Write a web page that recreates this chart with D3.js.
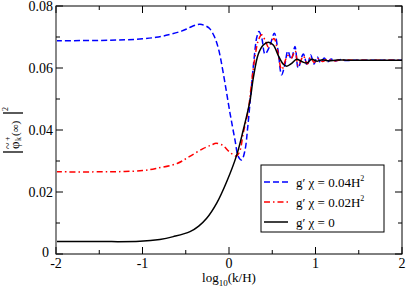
<!DOCTYPE html>
<html>
<head>
<meta charset="utf-8">
<script src="https://cdn.jsdelivr.net/npm/d3@7"></script>
<style>
  body { margin: 0; background: #fff; }
  svg text { font-family: "Liberation Serif", "Times New Roman", "DejaVu Serif", serif; }
</style>
</head>
<body>
<div id="chart"></div>
<script>
// log10(k/H) and |phi|^2 values
const blueX = [-2, -1.5, -1.2, -1.0, -0.844, -0.7, -0.55, -0.459, -0.38, -0.335, -0.28, -0.227, -0.17, -0.12, -0.066, 0.012, 0.069, 0.108, 0.146, 0.185, 0.215, 0.25, 0.29, 0.322, 0.347, 0.38, 0.416, 0.47, 0.524, 0.565, 0.608, 0.645, 0.68, 0.72, 0.763, 0.80, 0.859, 0.905, 0.944, 0.983, 1.02, 1.06, 1.10, 1.14, 1.18, 1.23, 1.28, 1.35, 1.45, 1.6, 2.0];
const blueY = [0.0688, 0.0689, 0.0691, 0.0694, 0.0699, 0.0707, 0.0719, 0.0730, 0.0739, 0.0741, 0.0737, 0.0728, 0.0702, 0.0660, 0.0583, 0.0454, 0.0368, 0.0314, 0.0303, 0.0335, 0.0405, 0.0510, 0.0630, 0.0700, 0.0718, 0.0695, 0.0645, 0.0670, 0.0712, 0.0660, 0.0578, 0.0610, 0.0655, 0.0628, 0.0669, 0.0600, 0.0645, 0.0608, 0.0642, 0.0613, 0.0636, 0.0617, 0.0632, 0.0620, 0.0629, 0.0622, 0.0627, 0.0624, 0.0625, 0.0625, 0.0625];

const redX = [-2, -1.5, -1.23, -1.0, -0.844, -0.6, -0.459, -0.3, -0.2, -0.15, -0.07, 0.003, 0.08, 0.12, 0.165, 0.223, 0.26, 0.30, 0.34, 0.378, 0.42, 0.455, 0.52, 0.565, 0.61, 0.68, 0.72, 0.765, 0.80, 0.86, 0.905, 0.944, 0.983, 1.03, 1.08, 1.14, 1.2, 1.3, 1.45, 2.0];
const redY = [0.0265, 0.0265, 0.0266, 0.0269, 0.0276, 0.0292, 0.0314, 0.0340, 0.0352, 0.0357, 0.0350, 0.0330, 0.0316, 0.0328, 0.0390, 0.0465, 0.0550, 0.0635, 0.0690, 0.0707, 0.0688, 0.0668, 0.0695, 0.0650, 0.0595, 0.0640, 0.0632, 0.0655, 0.0607, 0.0638, 0.0613, 0.0635, 0.0618, 0.0630, 0.0621, 0.0628, 0.0623, 0.0626, 0.0625, 0.0625];

const blackX = [-2, -1.5, -1.03, -0.8, -0.644, -0.451, -0.35, -0.258, -0.142, -0.027, 0.089, 0.165, 0.243, 0.281, 0.339, 0.397, 0.455, 0.512, 0.570, 0.628, 0.667, 0.725, 0.782, 0.84, 0.898, 0.956, 1.02, 1.08, 1.15, 1.25, 1.4, 2.0];
const blackY = [0.0040, 0.0040, 0.0041, 0.0047, 0.0056, 0.0072, 0.0090, 0.0115, 0.0164, 0.0233, 0.0319, 0.0400, 0.0495, 0.0568, 0.0645, 0.0674, 0.0683, 0.0674, 0.0640, 0.0612, 0.0606, 0.0615, 0.0628, 0.0621, 0.0616, 0.0628, 0.0622, 0.0627, 0.0623, 0.0626, 0.0625, 0.0625];

const xTicks = [-2, -1, 0, 1, 2];
const xMinor = [-1.5, -0.5, 0.5, 1.5];
const yTicks = [0, 0.02, 0.04, 0.06, 0.08];
const yTickLabels = ["0", "0.02", "0.04", "0.06", "0.08"];
const yMinor = [0.01, 0.03, 0.05, 0.07];
const legendLabels = ["0.04H", "0.02H", "0"];

const W = 407, H = 289;
const x0 = 56, x1 = 402, y0 = 254, y1 = 6;
const serif = "'Liberation Serif', 'Times New Roman', 'DejaVu Serif', serif";

const svg = d3.select("#chart").append("svg")
    .attr("width", W)
    .attr("height", H)
    .attr("font-family", serif);

const x = d3.scaleLinear().domain([-2, 2]).range([x0, x1]);
const y = d3.scaleLinear().domain([0, 0.08]).range([y0, y1]);

// curves
const line = d3.line()
    .x(d => x(d[0]))
    .y(d => y(d[1]))
    .curve(d3.curveCatmullRom.alpha(0.5));

const series = [
    { xs: blueX, ys: blueY, color: "#0000ff", dash: "6,3" },
    { xs: redX, ys: redY, color: "#ff0000", dash: "6,3,1.5,3" },
    { xs: blackX, ys: blackY, color: "#000", dash: null }
];

svg.append("clipPath").attr("id", "clip")
    .append("rect").attr("x", x0).attr("y", y1).attr("width", x1 - x0).attr("height", y0 - y1);

series.forEach(s => {
    svg.append("path")
        .datum(s.xs.map((v, i) => [v, s.ys[i]]))
        .attr("clip-path", "url(#clip)")
        .attr("fill", "none")
        .attr("stroke", s.color)
        .attr("stroke-width", 1.5)
        .attr("stroke-dasharray", s.dash)
        .attr("d", line);
});

// frame + inward ticks
const frame = svg.append("g");
frame.append("rect")
    .attr("x", x0).attr("y", y1)
    .attr("width", x1 - x0).attr("height", y0 - y1)
    .attr("fill", "none").attr("stroke", "#000").attr("stroke-width", 1);
frame.append("line")
    .attr("x1", x0).attr("x2", x0).attr("y1", y1).attr("y2", y0)
    .attr("stroke", "#888").attr("stroke-width", 2);

function tick(g, v, len, axis) {
    if (axis === "x") {
        g.append("line").attr("x1", x(v)).attr("x2", x(v)).attr("y1", y0).attr("y2", y0 - len).attr("stroke", "#000");
        g.append("line").attr("x1", x(v)).attr("x2", x(v)).attr("y1", y1).attr("y2", y1 + len).attr("stroke", "#000");
    } else {
        g.append("line").attr("y1", y(v)).attr("y2", y(v)).attr("x1", x0).attr("x2", x0 + len).attr("stroke", "#000");
        g.append("line").attr("y1", y(v)).attr("y2", y(v)).attr("x1", x1).attr("x2", x1 - len).attr("stroke", "#000");
    }
}
xTicks.forEach(v => tick(frame, v, 7, "x"));
xMinor.forEach(v => tick(frame, v, 4, "x"));
yTicks.forEach(v => tick(frame, v, 7, "y"));
yMinor.forEach(v => tick(frame, v, 4, "y"));

// tick labels
svg.selectAll(".xl").data(xTicks).enter().append("text")
    .attr("x", d => x(d)).attr("y", 268)
    .attr("text-anchor", "middle").attr("font-size", 14)
    .text(d => d);
svg.selectAll(".yl").data(yTicks).enter().append("text")
    .attr("x", d => d === 0 ? 49 : 53).attr("y", d => y(d) + (d === 0 ? 3 : 5))
    .attr("text-anchor", "end").attr("font-size", 14)
    .text((d, i) => yTickLabels[i]);

// x axis title
const xt = svg.append("text")
    .attr("x", 229).attr("y", 282)
    .attr("text-anchor", "middle").attr("font-size", 13);
xt.append("tspan").text("log");
xt.append("tspan").attr("font-size", 9).attr("dy", 4).text("10");
xt.append("tspan").attr("dy", -4).text("(k/H)");

// y axis title (rotated): |phi~^+_k(inf)|^2
const yt = svg.append("g").attr("transform", "translate(13,132) rotate(-90)");
yt.append("line").attr("x1", -20).attr("x2", -20).attr("y1", -10).attr("y2", 10)
    .attr("stroke", "#000").attr("stroke-width", 1.3);
yt.append("line").attr("x1", 19).attr("x2", 19).attr("y1", -10).attr("y2", 10)
    .attr("stroke", "#000").attr("stroke-width", 1.3);
yt.append("text").attr("x", -17).attr("y", 6).attr("font-size", 13).text("\u03C6");
yt.append("text").attr("x", -17).attr("y", -1).attr("font-size", 12).text("~");
yt.append("text").attr("x", -9).attr("y", -3).attr("font-size", 8).text("+");
yt.append("text").attr("x", -9).attr("y", 8).attr("font-size", 8).text("k");
yt.append("text").attr("x", -4).attr("y", 6).attr("font-size", 11).text("(\u221E)");
yt.append("text").attr("x", 21).attr("y", -5).attr("font-size", 8).text("2");

// legend
const lg = svg.append("g");
lg.append("rect")
    .attr("x", 261).attr("y", 165).attr("width", 123).attr("height", 67)
    .attr("fill", "#fff").attr("stroke", "#000").attr("stroke-width", 1);
const legYs = [182, 202, 222];
series.forEach((s, i) => {
    lg.append("line")
        .attr("x1", 264).attr("x2", 288)
        .attr("y1", legYs[i]).attr("y2", legYs[i])
        .attr("stroke", s.color).attr("stroke-width", 1.5)
        .attr("stroke-dasharray", s.dash);
    const t = lg.append("text")
        .attr("x", 296).attr("y", legYs[i] + 5)
        .attr("font-size", 13);
    t.append("tspan").text("g\u2032 \u03C7 = " + legendLabels[i]);
    if (i < 2) t.append("tspan").attr("font-size", 8).attr("dy", -6).text("2");
});
</script>
</body>
</html>
